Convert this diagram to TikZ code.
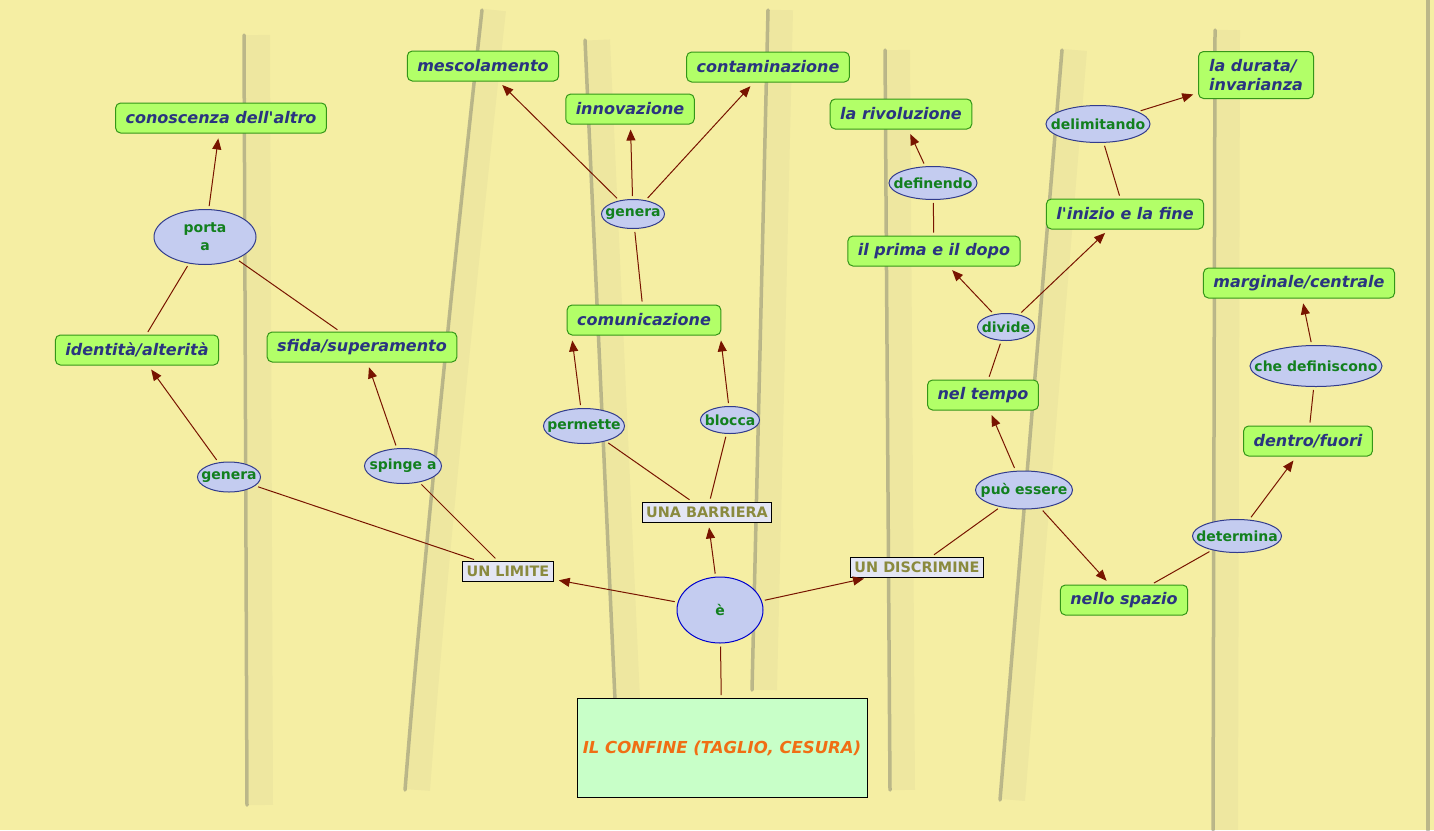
\documentclass[tikz,border=0pt]{standalone}
\usepackage{fontspec}
\setmainfont{DejaVu Sans}
\usetikzlibrary{arrows.meta,shapes.geometric}
\definecolor{canvas}{RGB}{245,238,163}
\definecolor{cutcol}{RGB}{130,130,112}
\definecolor{cptfill}{RGB}{178,255,104}
\definecolor{cptline}{RGB}{52,150,24}
\definecolor{cpttext}{RGB}{42,52,128}
\definecolor{lblfill}{RGB}{196,204,240}
\definecolor{lblline}{RGB}{50,60,140}
\definecolor{lbltext}{RGB}{18,128,30}
\definecolor{phrfill}{RGB}{228,230,244}
\definecolor{phrtext}{RGB}{138,138,62}
\definecolor{topfill}{RGB}{200,255,200}
\definecolor{toptext}{RGB}{240,110,20}
\definecolor{linkcol}{RGB}{120,20,0}

\begin{document}
\begin{tikzpicture}[x=1pt,y=-1pt,
  concept/.style={draw=cptline,line width=1pt,fill=cptfill,rounded corners=5pt,text=cpttext,
    font=\fontsize{16}{19}\selectfont\bfseries\itshape,minimum height=30pt,inner xsep=10pt},
  lbl/.style={ellipse,draw=lblline,line width=1pt,fill=lblfill,text=lbltext,
    font=\fontsize{14}{16}\selectfont\bfseries,inner sep=0pt},
  phrase/.style={draw=black,line width=1pt,fill=phrfill,text=phrtext,
    font=\fontsize{14.4}{16}\selectfont\bfseries,inner xsep=4pt,inner ysep=2pt,minimum height=20pt},
  link/.style={draw=linkcol,line width=1pt,shorten <=3pt,shorten >=3pt},
  arr/.style={link,-{Triangle[length=11pt,width=9pt]},shorten >=5pt},
  cut/.style={draw=cutcol,line width=3.5pt,opacity=.5,line cap=round},
  cutshade/.style={draw=cutcol,line width=24pt,opacity=.06}]
  \fill[canvas] (0,0) rectangle (1434,830);
  \useasboundingbox (0,0) rectangle (1434,830);

  \draw[cutshade] (258,35) -- (261,805);
  \draw[cut] (244,35) -- (247,805);
  \draw[cutshade] (494,10) .. controls (462,300) and (432,600) .. (418,790);
  \draw[cut] (482,10) .. controls (450,300) and (420,600) .. (405,790);
  \draw[cutshade] (598,40) -- (628,700);
  \draw[cut] (585,40) -- (615,700);
  \draw[cutshade] (781,10) -- (765,690);
  \draw[cut] (768,10) -- (752,690);
  \draw[cutshade] (898,50) -- (903,790);
  \draw[cut] (885,50) -- (890,790);
  \draw[cutshade] (1075,50) -- (1013,800);
  \draw[cut] (1062,50) -- (1000,800);
  \draw[cutshade] (1228,30) -- (1226,830);
  \draw[cut] (1215,30) -- (1213,830);
  \draw[cut] (1428,0) -- (1428,830);

  \node[draw=black,line width=1pt,fill=topfill,text=toptext,font=\fontsize{16.5}{19}\selectfont\bfseries\itshape,
    minimum width=290pt,minimum height=99pt,inner sep=0pt] (confine) at (722,748) {IL CONFINE (TAGLIO, CESURA)};
  \node[lbl,draw=blue!80!black,minimum width=86pt,minimum height=66pt] (e) at (720,610) {\clap{è}};
  \node[phrase] (limite) at (508,571) {UN LIMITE};
  \node[phrase] (barriera) at (707,512) {UNA BARRIERA};
  \node[phrase] (discrimine) at (917,567) {UN DISCRIMINE};

  \node[lbl,minimum width=63pt,minimum height=30pt] (generaL) at (229,477) {\clap{genera}};
  \node[lbl,minimum width=77pt,minimum height=35pt] (spinge) at (403,466) {\clap{spinge a}};
  \node[concept] (identita) at (137,350) {identità/alterità};
  \node[concept] (sfida) at (362,347) {sfida/superamento};
  \node[lbl,align=center,minimum width=102pt,minimum height=55pt,font=\fontsize{14}{18}\selectfont\bfseries] (porta) at (205,237) {porta\\a};
  \node[concept] (conoscenza) at (221,118) {conoscenza dell\textquotesingle altro};

  \node[lbl,minimum width=81pt,minimum height=35pt] (permette) at (584,426) {\clap{permette}};
  \node[lbl,minimum width=59pt,minimum height=27pt] (blocca) at (730,420) {\clap{blocca}};
  \node[concept] (comunic) at (644,320) {comunicazione};
  \node[lbl,minimum width=63pt,minimum height=29pt] (generaT) at (633,214) {\clap{genera}};
  \node[concept] (mescol) at (483,66) {mescolamento};
  \node[concept] (innov) at (630,109) {innovazione};
  \node[concept] (contam) at (768,67) {contaminazione};

  \node[lbl,minimum width=97pt,minimum height=38pt] (puo) at (1024,490) {\clap{può essere}};
  \node[concept] (tempo) at (983,395) {nel tempo};
  \node[concept] (spazio) at (1124,600) {nello spazio};
  \node[lbl,minimum width=57pt,minimum height=27pt] (divide) at (1006,327) {\clap{divide}};
  \node[concept] (prima) at (934,251) {il prima e il dopo};
  \node[concept] (inizio) at (1125,214) {l\textquotesingle inizio e la fine};
  \node[lbl,minimum width=88pt,minimum height=33pt] (definendo) at (933,183) {\clap{definendo}};
  \node[concept] (rivol) at (901,114) {la rivoluzione};
  \node[lbl,minimum width=104pt,minimum height=37pt] (delimit) at (1098,124) {\clap{delimitando}};
  \node[concept,align=left,minimum width=115pt,minimum height=47pt] (durata) at (1256,75) {la durata/\\invarianza};
  \node[lbl,minimum width=89pt,minimum height=33pt] (determina) at (1237,536) {\clap{determina}};
  \node[concept] (dentro) at (1308,441) {dentro/fuori};
  \node[lbl,minimum width=132pt,minimum height=41pt] (chedef) at (1316,366) {\clap{che definiscono}};
  \node[concept] (marginale) at (1299,283) {marginale/centrale};

  \draw[link] (confine) -- (e);
  \draw[arr] (e) -- (limite);
  \draw[arr] (e) -- (barriera);
  \draw[arr] (e) -- (discrimine);

  \draw[link] (limite) -- (generaL);
  \draw[arr] (generaL) -- (identita);
  \draw[link] (limite) -- (spinge);
  \draw[arr] (spinge) -- (sfida);
  \draw[link] (identita) -- (porta);
  \draw[link] (sfida) -- (porta);
  \draw[arr] (porta) -- (conoscenza);

  \draw[link] (barriera) -- (permette);
  \draw[arr] (permette.100) -- ([xshift=5pt]comunic.south west);
  \draw[link] (barriera) -- (blocca);
  \draw[arr] (blocca.95) -- ([xshift=-1pt]comunic.south east);
  \draw[link] (comunic) -- (generaT);
  \draw[arr] (generaT) -- (mescol);
  \draw[arr] (generaT) -- (innov);
  \draw[arr] (generaT) -- (contam);

  \draw[link] (discrimine) -- (puo);
  \draw[arr] (puo) -- (tempo);
  \draw[arr] (puo) -- (spazio);
  \draw[link] (tempo) -- (divide);
  \draw[arr] (divide) -- (prima);
  \draw[arr] (divide) -- (inizio);
  \draw[link] (prima) -- (definendo);
  \draw[arr] (definendo) -- (rivol);
  \draw[link] (inizio) -- (delimit);
  \draw[arr] (delimit) -- (durata);
  \draw[link] (spazio) -- (determina);
  \draw[arr] (determina) -- (dentro);
  \draw[link] (dentro) -- (chedef);
  \draw[arr] (chedef) -- (marginale);
\end{tikzpicture}
\end{document}
